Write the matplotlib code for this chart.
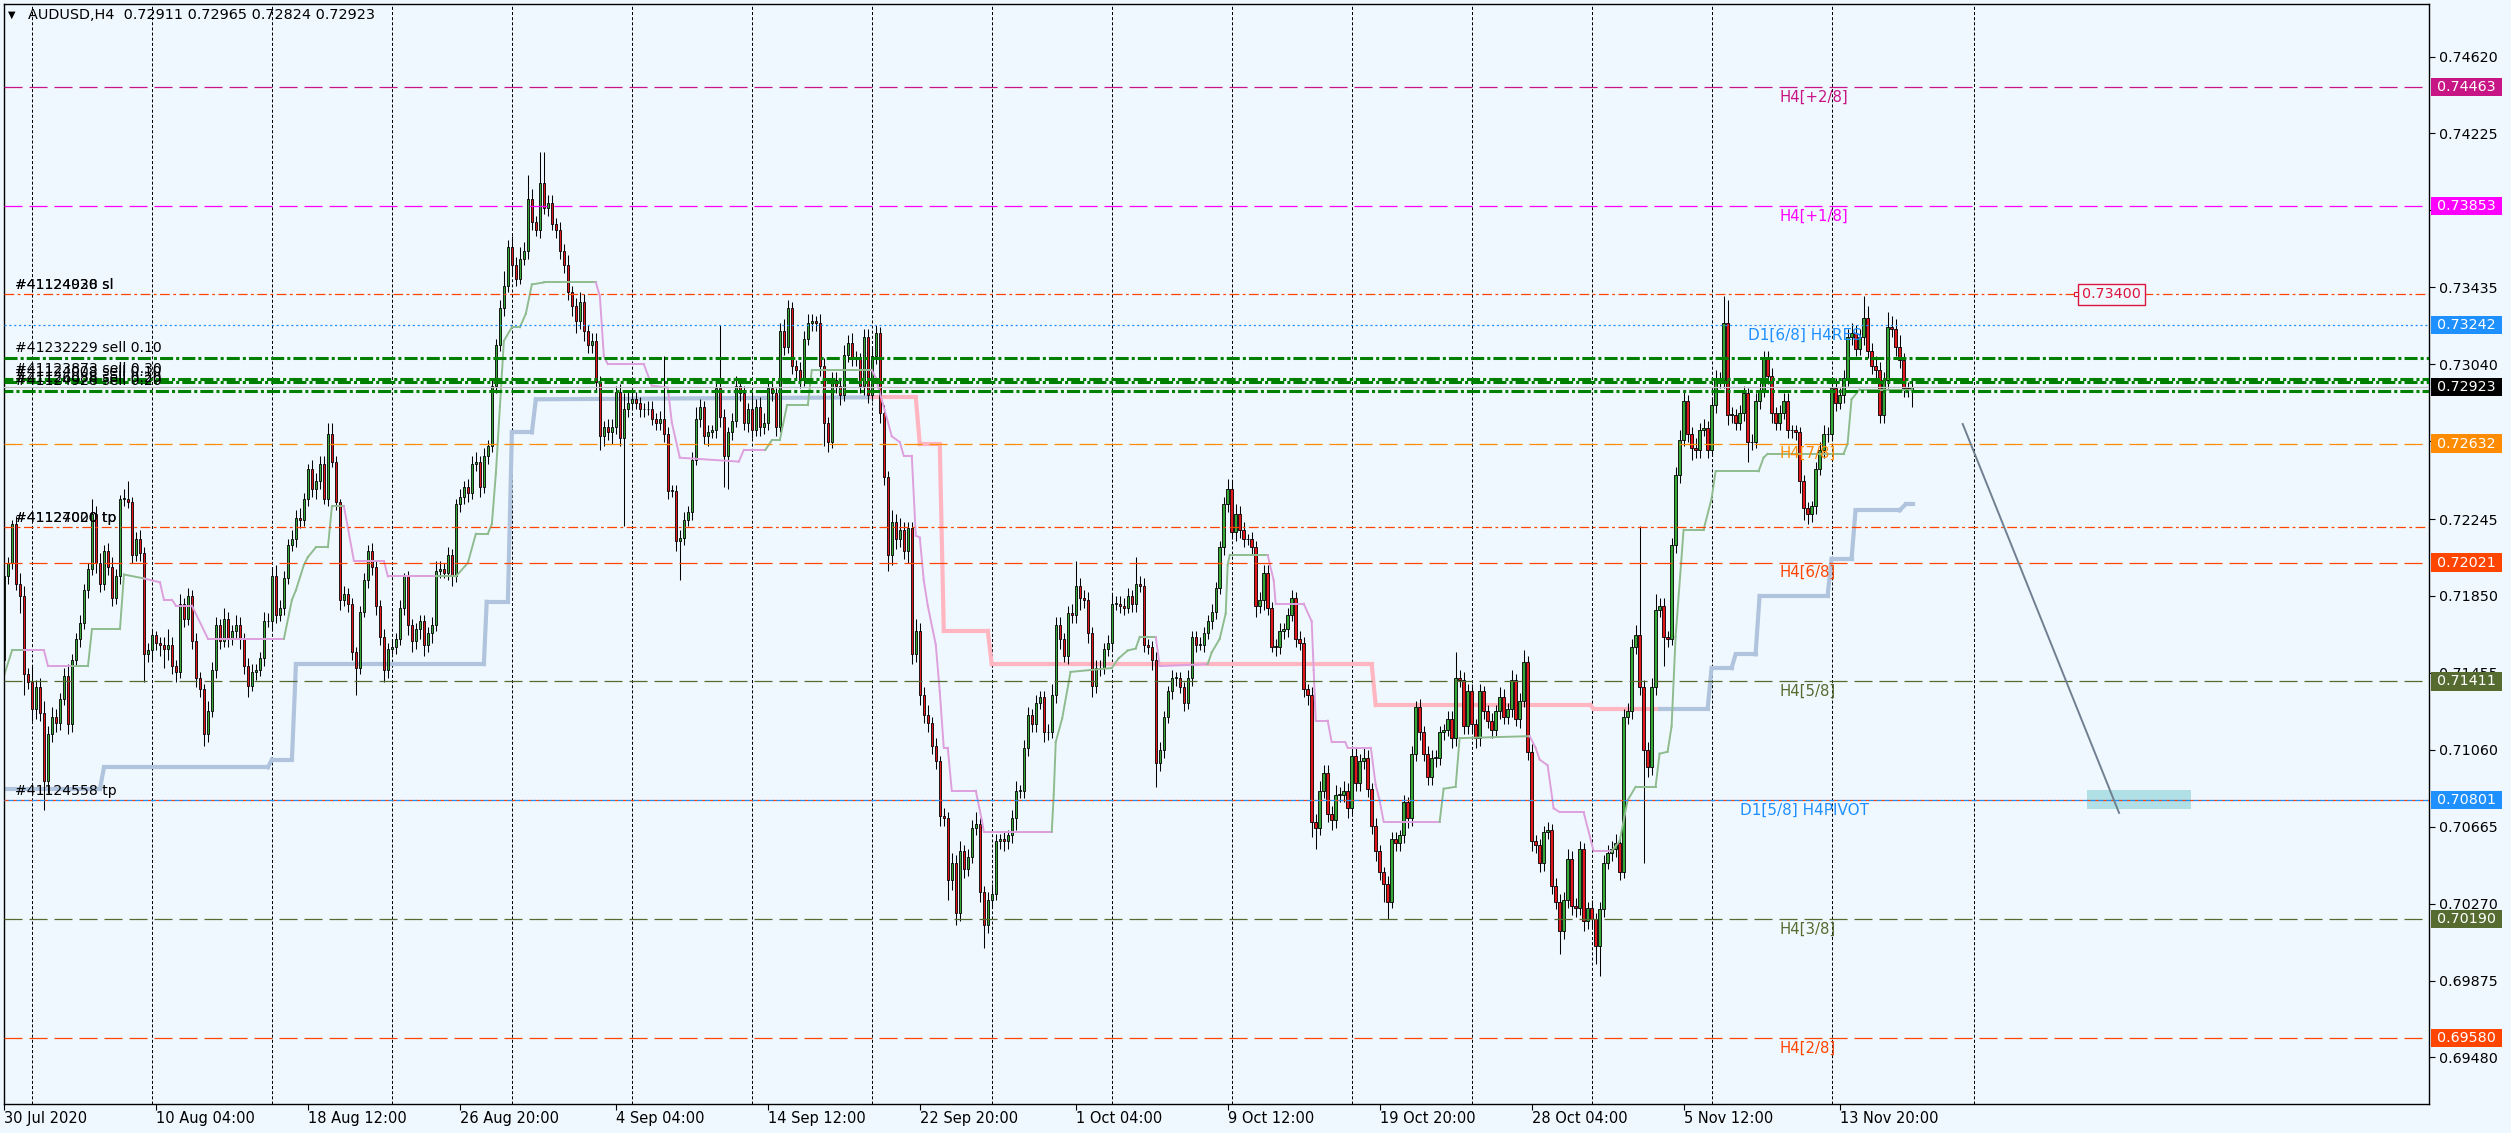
import numpy as np
import matplotlib.pyplot as plt
import matplotlib.transforms as mtransforms
from matplotlib.patches import Rectangle

plt.rcParams['lines.scale_dashes'] = False
plt.rcParams['font.family'] = ['DejaVu Sans']

# AUDUSD H4 bars, close in pips (x 0.0001); open = previous close
first_open = 7152
close_pips = [
    7195, 7202, 7222, 7191, 7185, 7145, 7141, 7127, 7138, 7125,
    7090, 7114, 7123, 7120, 7132, 7144, 7119, 7152, 7163, 7171,
    7188, 7199, 7227, 7202, 7191, 7208, 7200, 7184, 7195, 7235,
    7235, 7233, 7206, 7214, 7207, 7155, 7157, 7165, 7161, 7160,
    7158, 7160, 7149, 7146, 7181, 7173, 7185, 7162, 7143, 7137,
    7114, 7126, 7147, 7170, 7162, 7173, 7163, 7167, 7170, 7163,
    7149, 7139, 7146, 7147, 7153, 7172, 7172, 7195, 7175, 7179,
    7194, 7211, 7214, 7225, 7224, 7235, 7250, 7240, 7244, 7253,
    7235, 7268, 7254, 7233, 7183, 7186, 7181, 7156, 7148, 7177,
    7193, 7208, 7200, 7180, 7164, 7147, 7158, 7159, 7163, 7179,
    7195, 7170, 7162, 7168, 7172, 7160, 7166, 7170, 7198, 7199,
    7197, 7206, 7195, 7232, 7236, 7241, 7238, 7253, 7254, 7241,
    7257, 7262, 7293, 7314, 7333, 7344, 7364, 7355, 7348, 7358,
    7362, 7389, 7377, 7373, 7397, 7384, 7387, 7376, 7373, 7362,
    7355, 7341, 7334, 7326, 7336, 7321, 7314, 7316, 7295, 7267,
    7272, 7269, 7272, 7290, 7266, 7281, 7284, 7286, 7284, 7281,
    7281, 7281, 7276, 7274, 7276, 7268, 7239, 7239, 7213, 7215,
    7224, 7228, 7255, 7276, 7282, 7267, 7269, 7270, 7292, 7277,
    7257, 7269, 7275, 7293, 7289, 7274, 7281, 7270, 7282, 7272,
    7274, 7292, 7289, 7272, 7321, 7313, 7333, 7303, 7301, 7296,
    7317, 7325, 7326, 7325, 7303, 7274, 7264, 7296, 7293, 7288,
    7309, 7315, 7307, 7307, 7293, 7318, 7288, 7308, 7320, 7279,
    7246, 7206, 7223, 7214, 7219, 7208, 7220, 7155, 7167, 7134,
    7124, 7120, 7108, 7100, 7072, 7071, 7039, 7048, 7022, 7054,
    7045, 7051, 7066, 7068, 7033, 7016, 7029, 7032, 7059, 7060,
    7059, 7062, 7071, 7085, 7085, 7107, 7124, 7119, 7130, 7133,
    7115, 7115, 7134, 7170, 7163, 7154, 7176, 7175, 7190, 7184,
    7183, 7166, 7139, 7148, 7148, 7158, 7161, 7181, 7181, 7180,
    7179, 7185, 7181, 7191, 7190, 7160, 7159, 7152, 7099, 7106,
    7123, 7136, 7143, 7143, 7138, 7130, 7143, 7164, 7160, 7160,
    7166, 7172, 7177, 7189, 7210, 7232, 7240, 7218, 7227, 7219,
    7214, 7214, 7210, 7180, 7183, 7197, 7179, 7159, 7159, 7167,
    7168, 7175, 7184, 7163, 7161, 7137, 7134, 7069, 7066, 7085,
    7094, 7073, 7070, 7083, 7083, 7085, 7076, 7103, 7089, 7100,
    7102, 7086, 7067, 7054, 7043, 7037, 7028, 7060, 7058, 7062,
    7079, 7071, 7104, 7128, 7115, 7104, 7092, 7102, 7102, 7115,
    7116, 7122, 7112, 7143, 7142, 7118, 7136, 7119, 7112, 7136,
    7126, 7121, 7116, 7126, 7133, 7123, 7127, 7142, 7122, 7131,
    7151, 7105, 7059, 7057, 7048, 7064, 7065, 7036, 7028, 7013,
    7029, 7050, 7026, 7025, 7055, 7018, 7025, 7019, 7005, 7024,
    7048, 7053, 7055, 7058, 7043, 7123, 7126, 7159, 7165, 7138,
    7106, 7097, 7138, 7178, 7180, 7164, 7163, 7211, 7247, 7265,
    7285, 7268, 7261, 7260, 7270, 7271, 7260, 7283, 7296, 7296,
    7325, 7278, 7278, 7274, 7279, 7289, 7264, 7264, 7285, 7291,
    7307, 7298, 7279, 7274, 7279, 7285, 7270, 7270, 7269, 7244,
    7230, 7227, 7231, 7250, 7260, 7268, 7268, 7292, 7284, 7288,
    7297, 7318, 7320, 7312, 7318, 7328, 7311, 7303, 7301, 7278,
    7296, 7323, 7322, 7313, 7306, 7292, 7291.1, 7292.3,
]
upper_wick = [
    1, 3, 2, 4, 6, 5, 3, 8, 4, 5,  6, 4, 5, 4, 3, 4, 6, 3, 3, 4,
    3, 3, 8, 4, 5, 3, 4, 5, 4, 2,  5, 9, 3, 4, 5, 3, 4, 3, 2, 3,
    4, 8, 4, 3, 5, 3, 4, 3, 4, 3,  3, 5, 4, 4, 3, 6, 4, 3, 5, 4,
    3, 4, 4, 3, 3, 5, 4, 5, 6, 4,  4, 3, 5, 4, 5, 3, 3, 5, 4, 4,
    4, 6, 6, 3, 2, 4, 3, 3, 3, 3,  4, 3, 4, 3, 3, 4, 3, 4, 3, 4,
    2, 3, 3, 3, 3, 3, 3, 4, 5, 4,  3, 4, 3, 3, 4, 3, 4, 4, 5, 3,
    4, 3, 4, 3, 4, 8, 4, 6, 4, 6,  5, 12, 5, 3, 16, 16, 4, 4, 3, 4,
    4, 5, 3, 4, 5, 4, 3, 4, 4, 3,  3, 4, 4, 3, 4, 8, 6, 4, 4, 3,
    3, 4, 4, 3, 4, 32, 4, 3, 3, 4,  4, 3, 4, 6, 4, 3, 4, 3, 4, 32,
    4, 3, 4, 5, 4, 4, 3, 8, 4, 5,  5, 4, 4, 3, 4, 6, 4, 3, 3, 4,
    4, 5, 4, 3, 5, 4, 3, 4, 4, 3,  5, 4, 5, 4, 3, 4, 4, 5, 4, 3,
    4, 3, 6, 4, 6, 4, 3, 3, 6, 4,  4, 5, 3, 4, 3, 4, 3, 5, 4, 5,
    3, 4, 4, 6, 3, 3, 4, 5, 4, 3,  4, 3, 4, 5, 3, 4, 4, 3, 4, 3,
    3, 4, 6, 4, 4, 3, 4, 5, 13, 4,  4, 4, 3, 4, 4, 3, 4, 5, 4, 4,
    4, 4, 3, 14, 4, 4, 3, 3, 4, 4,  3, 3, 4, 3, 3, 3, 4, 3, 3, 4,
    3, 3, 4, 3, 3, 4, 5, 4, 5, 4,  4, 3, 4, 3, 4, 4, 4, 3, 4, 4,
    3, 4, 4, 3, 4, 3, 3, 4, 4, 5,  4, 4, 4, 5, 4, 5, 4, 5, 4, 4,
    5, 4, 3, 4, 3, 3, 4, 4, 4, 3,  4, 3, 4, 3, 4, 3, 4, 4, 4, 3,
    3, 4, 4, 13, 4, 4, 4, 4, 3, 4,  3, 3, 4, 3, 5, 4, 3, 5, 3, 4,
    6, 3, 4, 3, 3, 3, 4, 3, 4, 4,  4, 5, 4, 4, 4, 3, 3, 4, 3, 4,
    4, 4, 4, 5, 3, 4, 4, 4, 5, 56,  4, 4, 5, 8, 4, 4, 3, 4, 4, 5,
    5, 3, 4, 5, 4, 5, 4, 4, 5, 4,  14, 12, 4, 3, 4, 4, 3, 4, 4, 5,
    4, 4, 4, 3, 4, 4, 4, 3, 3, 3,  3, 3, 3, 4, 4, 5, 4, 4, 5, 4,
    4, 4, 5, 4, 4, 11, 6, 4, 5, 4,  4, 8, 6, 5, 6, 4, 3, 4,
]
lower_wick = [
    2, 4, 3, 3, 9, 11, 4, 6, 5, 4,  15, 6, 4, 5, 4, 3, 5, 4, 3, 4,
    3, 4, 3, 5, 4, 3, 4, 4, 3, 4,  4, 3, 4, 3, 4, 14, 4, 5, 4, 6,
    10, 6, 4, 5, 3, 4, 3, 4, 5, 4,  6, 4, 3, 4, 4, 3, 4, 3, 4, 5,
    4, 6, 3, 4, 3, 4, 3, 4, 4, 3,  4, 3, 3, 4, 4, 3, 4, 4, 5, 4,
    3, 4, 3, 4, 5, 3, 4, 4, 14, 3,  3, 4, 4, 5, 4, 6, 4, 3, 4, 3,
    4, 5, 6, 4, 5, 6, 4, 5, 3, 4,  3, 4, 5, 3, 4, 4, 5, 3, 4, 5,
    3, 4, 3, 4, 3, 4, 3, 5, 4, 3,  3, 4, 4, 3, 4, 3, 4, 3, 4, 4,
    4, 4, 5, 6, 4, 5, 4, 4, 4, 7,  5, 4, 6, 4, 4, 45, 4, 3, 3, 4,
    4, 3, 3, 4, 4, 4, 4, 3, 5, 20,  4, 3, 4, 3, 4, 4, 5, 3, 4, 5,
    16, 17, 4, 3, 4, 4, 5, 4, 3, 5,  4, 4, 4, 5, 3, 4, 3, 4, 4, 4,
    3, 3, 4, 4, 5, 12, 5, 3, 4, 5,  3, 4, 4, 4, 4, 5, 4, 3, 4, 5,
    4, 8, 5, 5, 4, 4, 6, 5, 4, 5,  4, 5, 4, 4, 5, 4, 10, 5, 6, 4,
    5, 4, 3, 4, 5, 12, 4, 4, 3, 4,  5, 4, 4, 6, 4, 4, 4, 4, 4, 3,
    5, 4, 3, 4, 5, 3, 4, 4, 4, 6,  4, 5, 6, 4, 4, 3, 4, 4, 3, 4,
    4, 3, 4, 4, 3, 4, 4, 5, 12, 4,  4, 3, 4, 4, 3, 4, 3, 4, 4, 3,
    4, 3, 4, 4, 3, 4, 4, 4, 5, 4,  4, 3, 4, 6, 4, 5, 4, 3, 5, 4,
    4, 4, 3, 4, 4, 4, 5, 8, 11, 4,  4, 4, 5, 4, 4, 4, 5, 4, 4, 4,
    4, 4, 4, 5, 4, 9, 9, 3, 4, 4,  4, 5, 4, 4, 4, 4, 4, 4, 5, 4,
    4, 3, 5, 4, 4, 4, 4, 4, 5, 4,  4, 4, 4, 3, 4, 4, 4, 4, 4, 5,
    3, 4, 5, 4, 5, 4, 4, 4, 4, 12,  4, 4, 5, 5, 4, 5, 4, 4, 9, 15,
    4, 3, 4, 4, 4, 3, 4, 4, 4, 4,  58, 5, 4, 4, 4, 15, 4, 3, 4, 4,
    3, 4, 6, 4, 4, 3, 4, 3, 4, 4,  4, 5, 4, 4, 4, 4, 10, 4, 3, 4,
    4, 4, 5, 4, 4, 3, 4, 4, 4, 6,  6, 5, 4, 4, 3, 4, 4, 3, 4, 3,
    4, 4, 4, 4, 3, 4, 4, 4, 5, 4,  4, 4, 4, 5, 4, 5, 4, 9,
]

# trailing stop indicator: vertices (bar, pips), colour of segment starting at each vertex
trail_bars = [
    0, 2, 5, 10, 11, 17, 21, 22, 29, 30, 35, 39, 40, 42, 43, 47, 51, 70, 72, 73,
    75, 76, 78, 81, 82, 85, 86, 87.5, 95, 96, 108, 113, 116, 118, 121, 122, 123, 124, 125, 127,
    129, 130.5, 132, 135, 148, 149, 150, 151, 160, 162, 166, 167, 169, 183.75, 185, 190.4, 192, 194, 195.8, 201,
    202, 217, 218, 222, 224, 225, 227, 228, 229, 230, 231, 233, 234, 235, 236, 237, 243, 244.5, 245, 262,
    262.5, 263, 264.6, 266.7, 277, 278.75, 281, 283, 284, 288, 289, 301, 302, 304, 305.5, 306, 306.5, 316, 317.5, 318,
    325, 327, 327.5, 328, 331, 332, 335.4, 336, 341.8, 343, 344, 345, 359, 360, 363, 364, 381.5, 383, 384, 386,
    387.5, 389, 395, 397.5, 402, 404, 406, 408, 413, 414, 416, 417, 418, 420, 425, 427, 428, 438.75, 440, 441,
    460, 461, 462, 464, 477,
]
trail_vals = [
    7144, 7157, 7157, 7157, 7149, 7149, 7149, 7168, 7168, 7196, 7194, 7192, 7183, 7183, 7180, 7180, 7163, 7163, 7183, 7188,
    7201, 7205, 7210, 7210, 7231, 7231, 7220, 7203, 7203, 7195, 7195, 7195, 7202, 7217, 7217, 7222, 7248, 7282, 7316, 7323,
    7323, 7330, 7345, 7346, 7346, 7339, 7308, 7304, 7304, 7293, 7292, 7274, 7256, 7254, 7260, 7260, 7265, 7265, 7283, 7283,
    7301, 7301, 7297, 7267, 7264, 7257, 7257, 7216, 7215, 7193, 7180, 7160, 7136, 7107, 7107, 7085, 7085, 7070, 7064, 7064,
    7083, 7110, 7122, 7146, 7148, 7153, 7157, 7158, 7164, 7164, 7149, 7150, 7156, 7163, 7176, 7201, 7206, 7206, 7193, 7181,
    7181, 7172, 7147, 7121, 7121, 7110, 7110, 7107, 7107, 7088, 7080, 7069, 7069, 7086, 7087, 7112, 7113, 7107, 7101, 7098,
    7076, 7074, 7074, 7054, 7054, 7059, 7080, 7087, 7087, 7104, 7105, 7118, 7164, 7219, 7219, 7235, 7249, 7249, 7256, 7258,
    7258, 7263, 7286, 7291, 7291,
]
trail_side = ('g' * 2 + 'p' * 3 + 'g' * 5 + 'p' * 7 + 'g' * 8 + 'p' * 5 + 'g' * 14 + 'p' * 11
              + 'g' * 6 + 'p' * 18 + 'g' * 10 + 'p' * 2 + 'g' * 6 + 'p' * 15 + 'g' * 4 + 'p' * 8 + 'g' * 21)

# higher timeframe trend line (thick)
d1_bars = [0, 24, 25, 66, 67, 72, 73, 120, 120.7, 126, 127, 132, 133, 217,
           228, 229, 234, 235, 246, 247, 342, 343, 396.7, 397.5, 414,
           426, 427, 432, 433, 438, 439, 456, 457, 462, 463, 474, 475.5, 477.3]
d1_vals = [7086, 7086, 7097, 7097, 7101, 7101, 7150, 7150, 7182, 7182, 7269, 7269, 7286, 7287,
           7287, 7263, 7263, 7167, 7167, 7150, 7150, 7129, 7129, 7127, 7127,
           7127, 7148, 7148, 7155, 7155, 7185, 7185, 7204, 7204, 7229, 7229, 7232, 7232]
d1_side = 'b' * 13 + 'p' * 11 + 'b' * 13

date_bars = [0, 38, 76, 114, 153, 191, 229, 268, 306, 344, 382, 420, 459]
date_labels = ['30 Jul 2020', '10 Aug 04:00', '18 Aug 12:00', '26 Aug 20:00', '4 Sep 04:00',
               '14 Sep 12:00', '22 Sep 20:00', '1 Oct 04:00', '9 Oct 12:00', '19 Oct 20:00',
               '28 Oct 04:00', '5 Nov 12:00', '13 Nov 20:00']
week_grid = [7, 37, 67, 97, 127, 157, 187, 217, 247, 277, 307, 337, 367, 397, 427, 457, 492.5]

price_ticks = [0.74620, 0.74225, 0.73830, 0.73435, 0.73040, 0.72645, 0.72245,
               0.71850, 0.71455, 0.71060, 0.70665, 0.70270, 0.69875, 0.69480]
hidden_ticks = [0.73830]  # fully covered by the level tag in the terminal

# Murrey math levels
levels = [0.74463, 0.73853, 0.72632, 0.72021, 0.71411, 0.70801, 0.70190, 0.69580]
level_names = ['H4[+2/8]', 'H4[+1/8]', 'H4[7/8]', 'H4[6/8]', 'H4[5/8]',
               'D1[5/8] H4PIVOT', 'H4[3/8]', 'H4[2/8]']
level_colors = ['#C71585', '#FF00FF', '#FF8C00', '#FF4500', '#556B2F',
                '#1E90FF', '#556B2F', '#FF4500']
res_level = 0.73242
last_price = 0.72923

# open orders
sell_levels = [0.73072, 0.72965, 0.72949, 0.72902]
sl_level = 0.73400
tp_levels = [0.72205, 0.70801]

BG = '#F0F8FF'
W, H = 2511, 1133
PX = 19473.0  # pixels per price unit

fig = plt.figure(figsize=(W / 100, H / 100), dpi=100, facecolor=BG)
ax = fig.add_axes([4 / W, 29 / H, 2425 / W, 1100 / H])
ax.set_facecolor(BG)
ax.set_xlim(0.17, 606.4)
ax.set_ylim(0.69241, 0.74890)
for s in ax.spines.values():
    s.set_color('black')
    s.set_linewidth(1.0)

# grid
for g in week_grid:
    ax.axvline(g, color='black', lw=0.72, linestyle=(0, (2.2, 1.5)), zorder=0.5)

# candles
c = np.array(close_pips) / 1e4
o = np.r_[first_open / 1e4, c[:-1]]
hi = np.maximum(o, c) + np.array(upper_wick) / 1e4
lo = np.minimum(o, c) - np.array(lower_wick) / 1e4
x = np.arange(len(c))
bull = c >= o
body_h = np.maximum(np.abs(c - o), 0.00002)
ax.vlines(x, lo, hi, color='black', lw=0.75, zorder=2)
ax.bar(x, body_h, bottom=np.minimum(o, c), width=0.6,
       color=np.where(bull, '#36A836', '#E3161B'), edgecolor='black', linewidth=0.6, zorder=2.1)

# thick D1 line
db = np.array(d1_bars)
dv = np.array(d1_vals) / 1e4
for k in range(len(db) - 1):
    col = '#B0C4DE' if d1_side[k] == 'b' else '#FFB6C1'
    ax.plot(db[k:k + 2], dv[k:k + 2], color=col, lw=3.0, zorder=1.5, solid_capstyle='projecting')

# trailing line
tb = np.array(trail_bars)
tv = np.array(trail_vals) / 1e4
for k in range(len(tb) - 1):
    col = '#8FBC8F' if trail_side[k] == 'g' else '#DDA0DD'
    ax.plot(tb[k:k + 2], tv[k:k + 2], color=col, lw=1.4, zorder=2.3, solid_capstyle='projecting')

# horizontal levels
for lvl, col in zip(levels, level_colors):
    if lvl == 0.70801:
        ax.axhline(lvl, color='#FF4500', lw=0.9, linestyle=(0, (3.5, 2.2)), zorder=3)
        ax.axhline(lvl, color='#1E90FF', lw=0.9, linestyle=(2.8, (3.5, 2.2)), zorder=3)
    else:
        ax.axhline(lvl, color=col, lw=0.9, linestyle=(0, (13, 5)), zorder=3)
ax.axhline(res_level, color='#1E90FF', lw=0.9, linestyle=(0, (1.5, 2)), zorder=3)
ax.axhline(sl_level, color='#FF4500', lw=0.9, linestyle=(0, (7, 2.5, 2, 2.5)), zorder=3)
ax.axhline(tp_levels[0], color='#FF4500', lw=0.9, linestyle=(0, (7, 2.5, 2, 2.5)), zorder=3)
ax.axhline(last_price, color='#C0C0C0', lw=0.9, zorder=2.9)
for k, lvl in enumerate(sell_levels):
    ax.axhline(lvl, color='#008000', lw=2.2, linestyle=(3 * (k % 2), (9.4, 2.2, 2.2, 2.2)), zorder=3.1)

# level captions
for lvl, name, col in zip(levels, level_names, level_colors):
    xb = 434 if name.startswith('D1') else 444
    ax.text(xb, lvl - 10 / PX, name, color=col, fontsize=11 if name.startswith('D1') else 10.7,
            va='center', ha='left', zorder=4)
ax.text(436, res_level - 10 / PX, 'D1[6/8] H4RES', color='#1E90FF', fontsize=11,
        va='center', ha='left', zorder=4)

# order captions on the left (the terminal prints them on top of each other)
order_texts = [('#41124020 sl', sl_level + 9 / PX), ('#41124938 sl', sl_level + 9 / PX),
               ('#41232229 sell 0.10', sell_levels[0] + 10 / PX),
               ('#41123873 sell 0.30', 0.73016), ('#41124008 sell 0.10', 0.73000),
               ('#41126088 sell 0.20', 0.72969), ('#41124928 sell 0.20', 0.72954),
               ('#41124020 tp', tp_levels[0] + 9 / PX), ('#41127000 tp', tp_levels[0] + 9 / PX),
               ('#41124558 tp', tp_levels[1] + 9 / PX)]
for txt, yv in order_texts:
    ax.text(2.7, yv, txt, color='black', fontsize=10.1, va='center', ha='left', zorder=4)

# sl price tag inside chart
ax.add_patch(Rectangle((518.7, sl_level - 10.5 / PX), 16.7, 21 / PX, facecolor=BG,
                       edgecolor='#DC143C', lw=1.0, zorder=4))
ax.text(527.05, sl_level, '0.73400', color='#DC143C', fontsize=10.3, ha='center', va='center', zorder=5)
ax.plot([518.2], [sl_level], marker='s', ms=3, mfc=BG, mec='#DC143C', mew=0.8, zorder=5)

# trend line and target box
ax.add_patch(Rectangle((520.8, 0.70755), 26.1, 0.000990, facecolor='#B0E0E6', edgecolor='none', zorder=1.2))
ax.plot([489.8, 528.9], [0.72733, 0.70736], color='#708090', lw=1.4, zorder=3.2)

# price axis
ax.yaxis.tick_right()
ax.set_yticks(price_ticks)
ax.set_yticklabels(['' if t in hidden_ticks else f'{t:.5f}' for t in price_ticks])
ax.tick_params(axis='y', direction='out', length=4, width=0.8, pad=3, labelsize=10.3, colors='black')

ax.set_xticks(date_bars)
ax.set_xticklabels(date_labels)
for lbl in ax.get_xticklabels():
    lbl.set_horizontalalignment('left')
ax.tick_params(axis='x', direction='out', length=4, width=0.8, pad=1, labelsize=10.5)

trans = mtransforms.blended_transform_factory(ax.transAxes, ax.transData)
box_h = 18.4 / PX
tags = [(lvl, col) for lvl, col in zip(levels, level_colors)] + [(res_level, '#1E90FF'), (last_price, 'black')]
for lvl, col in tags:
    ax.add_patch(Rectangle((1.0008, lvl - box_h / 2), 0.0293, box_h, transform=trans,
                           facecolor=col, edgecolor='none', clip_on=False, zorder=5))
    ax.text(1.0033, lvl, f'{lvl:.5f}', transform=trans, color='white', fontsize=10.3,
            va='center', ha='left', clip_on=False, zorder=6)

# header
fig.text(8 / W, 1 - 15 / H, '\u25BC', fontsize=7, va='center', ha='left', color='black')
fig.text(28 / W, 1 - 15 / H, 'AUDUSD,H4  0.72911 0.72965 0.72824 0.72923',
         fontsize=10.4, va='center', ha='left', color='black')

fig.savefig('out.png', dpi=100, facecolor=BG)
